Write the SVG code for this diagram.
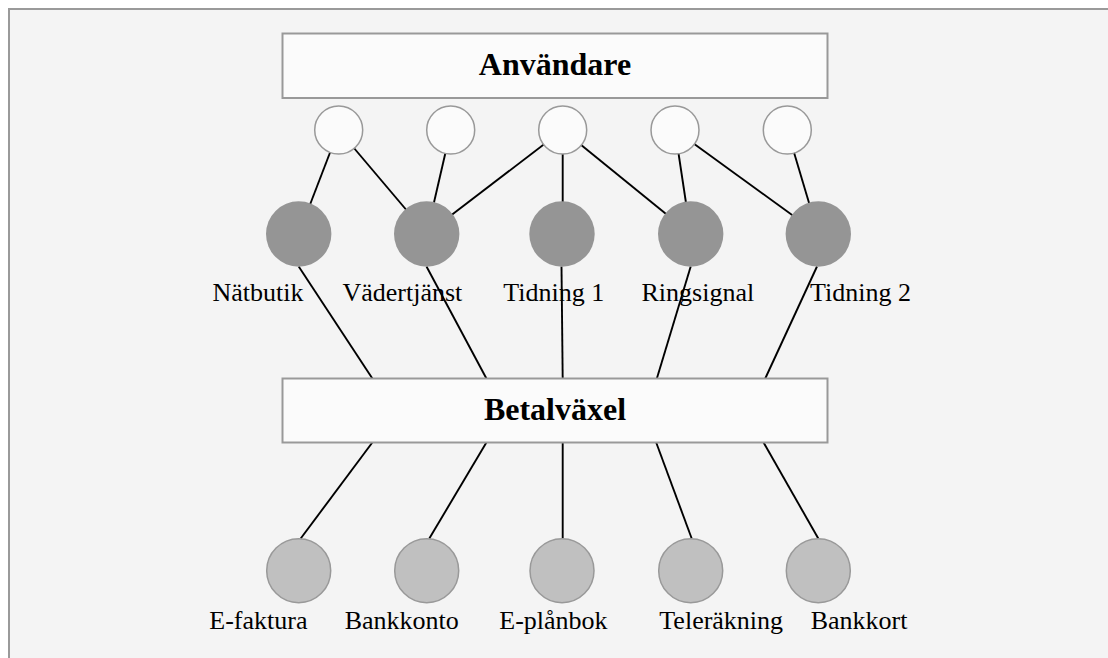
<svg xmlns="http://www.w3.org/2000/svg" width="1108" height="658" viewBox="0 0 1108 658">
  <style>
    .frame { fill: #f4f4f4; stroke: #9a9a9a; stroke-width: 2; }
    .box { fill: #fbfbfb; stroke: #999999; stroke-width: 2; }
    .user { fill: #fbfbfb; stroke: #999999; stroke-width: 1.5; }
    .service { fill: #959595; }
    .method { fill: #c0c0c0; stroke: #999999; stroke-width: 1.5; }
    .edge { stroke: #000000; stroke-width: 1.9; fill: none; }
    .title { font-family: "Liberation Serif", "Times New Roman", serif; font-size: 32px; font-weight: bold; fill: #000; text-anchor: middle; }
    .label { font-family: "Liberation Serif", "Times New Roman", serif; font-size: 26px; fill: #000; }
  </style>

  <rect x="0" y="0" width="1108" height="658" fill="#ffffff"/>
  <rect class="frame" x="9" y="9" width="1110" height="660"/>

  <!-- connectors, drawn beneath the nodes -->
  <g id="connectors">
    <!-- user circles to services -->
    <line class="edge" x1="338.7" y1="130" x2="298.7" y2="234"/>
    <line class="edge" x1="338.7" y1="130" x2="426.7" y2="234"/>
    <line class="edge" x1="450.7" y1="130" x2="426.7" y2="234"/>
    <line class="edge" x1="562.7" y1="130" x2="426.7" y2="234"/>
    <line class="edge" x1="562.7" y1="130" x2="562.7" y2="234"/>
    <line class="edge" x1="562.7" y1="130" x2="690.7" y2="234"/>
    <line class="edge" x1="675" y1="130" x2="690.7" y2="234"/>
    <line class="edge" x1="675" y1="130" x2="818.3" y2="234"/>
    <line class="edge" x1="787.3" y1="130" x2="818.3" y2="234"/>
    <!-- services to Betalväxel -->
    <line class="edge" x1="298.7" y1="266.5" x2="372.7" y2="379"/>
    <line class="edge" x1="426.5" y1="266.5" x2="486.7" y2="379"/>
    <line class="edge" x1="561.5" y1="266.5" x2="562.7" y2="379"/>
    <line class="edge" x1="690.7" y1="266.5" x2="656.7" y2="379"/>
    <line class="edge" x1="817" y1="266.5" x2="765" y2="379"/>
    <!-- Betalväxel to payment methods -->
    <line class="edge" x1="372.7" y1="442" x2="300.7" y2="538.5"/>
    <line class="edge" x1="486.7" y1="442" x2="429.3" y2="538.5"/>
    <line class="edge" x1="562.7" y1="442" x2="562.7" y2="538.5"/>
    <line class="edge" x1="656" y1="442" x2="691.7" y2="538.5"/>
    <line class="edge" x1="763.3" y1="442" x2="818.3" y2="538.5"/>
  </g>

  <g id="anvandare">
    <rect class="box" x="282.5" y="33.5" width="545" height="64.5"/>
    <text class="title" x="555" y="74.5">Användare</text>
  </g>

  <g id="users">
    <circle id="user1" class="user" cx="338.7" cy="130" r="24"/>
    <circle id="user2" class="user" cx="450.7" cy="130" r="24"/>
    <circle id="user3" class="user" cx="562.7" cy="130" r="24"/>
    <circle id="user4" class="user" cx="675" cy="130" r="24"/>
    <circle id="user5" class="user" cx="787.3" cy="130" r="24"/>
  </g>

  <g id="natbutik">
    <circle class="service" cx="298.7" cy="234" r="32.7"/>
    <text class="label" x="212.5" y="300.5">Nätbutik</text>
  </g>
  <g id="vadertjanst">
    <circle class="service" cx="426.7" cy="234" r="32.7"/>
    <text class="label" x="342.5" y="300.5">Vädertjänst</text>
  </g>
  <g id="tidning1">
    <circle class="service" cx="562" cy="234" r="32.7"/>
    <text class="label" x="503.3" y="300.5">Tidning 1</text>
  </g>
  <g id="ringsignal">
    <circle class="service" cx="690.7" cy="234" r="32.7"/>
    <text class="label" x="641.5" y="300.5">Ringsignal</text>
  </g>
  <g id="tidning2">
    <circle class="service" cx="818.3" cy="234" r="32.7"/>
    <text class="label" x="810" y="300.5">Tidning 2</text>
  </g>

  <g id="betalvaxel">
    <rect class="box" x="282.5" y="378.5" width="545" height="64"/>
    <text class="title" x="555" y="420">Betalväxel</text>
  </g>

  <g id="efaktura">
    <circle class="method" cx="298.7" cy="570.7" r="32"/>
    <text class="label" x="209.3" y="628.7">E-faktura</text>
  </g>
  <g id="bankkonto">
    <circle class="method" cx="426.7" cy="570.7" r="32"/>
    <text class="label" x="344.7" y="628.7">Bankkonto</text>
  </g>
  <g id="eplanbok">
    <circle class="method" cx="562" cy="570.7" r="32"/>
    <text class="label" x="499.3" y="628.7">E-plånbok</text>
  </g>
  <g id="telerakning">
    <circle class="method" cx="690.7" cy="570.7" r="32"/>
    <text class="label" x="659.3" y="628.7">Teleräkning</text>
  </g>
  <g id="bankkort">
    <circle class="method" cx="818.3" cy="570.7" r="32"/>
    <text class="label" x="810.7" y="628.7">Bankkort</text>
  </g>
</svg>
